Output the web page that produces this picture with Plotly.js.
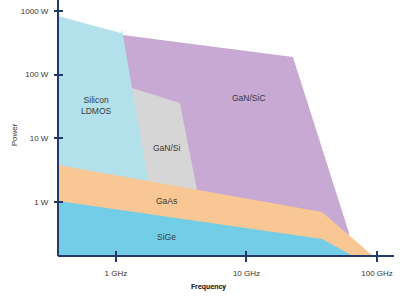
<!DOCTYPE html>
<html>
<head>
<meta charset="utf-8">
<script src="https://cdn.plot.ly/plotly-3.0.1.min.js"></script>
<style>html,body{margin:0;padding:0;background:#fff;}#chart{width:400px;height:300px;}</style>
</head>
<body>
<div id="chart"></div>
<script>
// Frequency in GHz, power in W (log-log)
const AXIS_MIN_W = 0.142;

const gansicFreq  = [1.13, 22.7, 61.0, 62.0, 1.13];
const gansicPower = [419, 189, 0.326, AXIS_MIN_W, AXIS_MIN_W];

const gansiFreq  = [1.33, 3.09, 4.18, 5.25, 1.33];
const gansiPower = [61.6, 35.8, 1.54, AXIS_MIN_W, AXIS_MIN_W];

const ldmosFreq  = [0.36, 1.09, 1.11, 1.13, 1.76, 2.0, 0.36];
const ldmosPower = [832, 450, 520, 419, 2.21, AXIS_MIN_W, AXIS_MIN_W];

const gaasFreq  = [0.36, 37.9, 93.2, 0.36];
const gaasPower = [3.81, 0.697, AXIS_MIN_W, AXIS_MIN_W];

const sigeFreq  = [0.36, 37.9, 65.5, 0.36];
const sigePower = [1.04, 0.262, AXIS_MIN_W, AXIS_MIN_W];

const regionLabels = ['Silicon<br>LDMOS', 'GaN/SiC', 'GaN/Si', 'GaAs', 'SiGe'];
const labelFreq    = [0.714, 10.4, 2.46, 2.46, 2.46];
const labelPower   = [33.3, 43.0, 7.05, 1.04, 0.282];

const xTickVals = [1, 10, 100];
const xTickText = ['1 GHz', '10 GHz', '100 GHz'];
const yTickVals = [1, 10, 100, 1000];
const yTickText = ['1 W', '10 W', '100 W', '1000 W'];

const NAVY = '#22396a';
const FONT = 'Liberation Sans, Arial, sans-serif';

function region(x, y, color) {
  return {x: x, y: y, type: 'scatter', mode: 'lines', fill: 'toself',
          fillcolor: color, line: {width: 0, color: color}, hoverinfo: 'skip', showlegend: false};
}

const traces = [
  region(gansicFreq, gansicPower, '#c7a9d3'),
  region(gansiFreq, gansiPower, '#d6d6d6'),
  region(ldmosFreq, ldmosPower, '#b3e1eb'),
  region(gaasFreq, gaasPower, '#f9c793'),
  region(sigeFreq, sigePower, '#74cde6'),
  // carrier for the overlaid axes that draw the inner half of each tick (no visible marks)
  {x: [1], y: [1], xaxis: 'x2', yaxis: 'y2', type: 'scatter', mode: 'markers',
   marker: {size: 0.1, opacity: 0}, hoverinfo: 'skip', showlegend: false}
];

const xRange = [Math.log10(0.36), 2.13];
const yRange = [Math.log10(AXIS_MIN_W), 3.171];

const annotations = regionLabels.map((t, i) => ({
  text: t, x: Math.log10(labelFreq[i]), y: Math.log10(labelPower[i]),
  xref: 'x', yref: 'y', showarrow: false,
  font: {family: FONT, size: 8.5, color: '#3a3a3a'}
}));
annotations.push({text: '<b>Frequency</b>', xref: 'paper', yref: 'paper', x: 0.448, y: -0.1445,
  showarrow: false, font: {family: 'Roboto, sans-serif', size: 7.5, color: '#222'}});
annotations.push({text: 'Power', xref: 'paper', yref: 'paper', x: -0.149, y: 0.473, textangle: -90,
  showarrow: false, font: {family: FONT, size: 8, color: '#333'}});

const layout = {
  width: 400, height: 300,
  margin: {l: 58, r: 6, t: 0, b: 44},
  paper_bgcolor: '#fff', plot_bgcolor: '#fff',
  showlegend: false,
  xaxis: {type: 'log', range: xRange, showgrid: false, zeroline: false, showline: false,
    ticks: 'outside', ticklen: 5, tickwidth: 2, tickcolor: NAVY,
    tickvals: xTickVals, ticktext: xTickText, ticklabelstandoff: 4,
    tickfont: {family: FONT, size: 8, color: '#333'}},
  yaxis: {type: 'log', range: yRange, showgrid: false, zeroline: false, showline: false,
    ticks: 'outside', ticklen: 3, tickwidth: 2, tickcolor: NAVY,
    tickvals: yTickVals, ticktext: yTickText, ticklabelstandoff: 4,
    tickfont: {family: FONT, size: 8, color: '#333'}},
  xaxis2: {type: 'log', range: xRange, overlaying: 'x', anchor: 'y2', side: 'bottom',
    showgrid: false, zeroline: false, showline: false, showticklabels: false,
    ticks: 'inside', ticklen: 5, tickwidth: 2, tickcolor: NAVY, tickvals: xTickVals},
  yaxis2: {type: 'log', range: yRange, overlaying: 'y', anchor: 'x2', side: 'left',
    showgrid: false, zeroline: false, showline: false, showticklabels: false,
    ticks: 'inside', ticklen: 5, tickwidth: 2, tickcolor: NAVY, tickvals: yTickVals},
  // axis lines
  shapes: [
    {type: 'line', xref: 'paper', yref: 'paper', x0: 0, x1: 0, y0: 0, y1: 1,
     line: {color: NAVY, width: 2}, layer: 'above'},
    {type: 'line', xref: 'paper', yref: 'paper', x0: 0, x1: 1, y0: 0, y1: 0,
     line: {color: NAVY, width: 2}, layer: 'above'}
  ],
  annotations: annotations
};

Plotly.newPlot('chart', traces, layout, {staticPlot: true, displayModeBar: false});
</script>
</body>
</html>
